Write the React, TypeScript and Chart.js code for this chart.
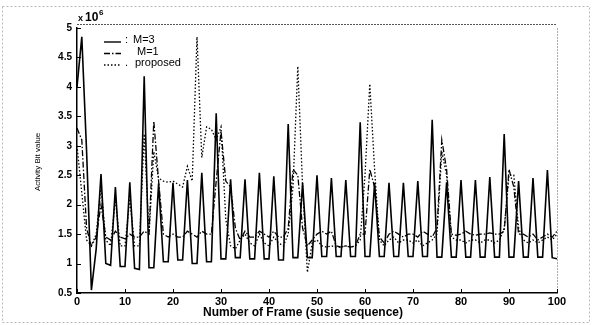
import React, { useEffect, useRef } from "react";
import { Chart, registerables } from "chart.js";
Chart.register(...registerables);

// Frame numbers 0..100
const frameCount = 101;
const xTickValues = [0, 10, 20, 30, 40, 50, 60, 70, 80, 90, 100];
const yTickValues = [0.5, 1, 1.5, 2, 2.5, 3, 3.5, 4, 4.5, 5];

const seriesLabels = ["M=3", "M=1", "proposed"];

// Activity bit value (x 10^6), M=3 (solid)
const m3 = [
  4.0, 4.85, 2.9, 0.55, 1.25, 2.52, 1.0, 0.97, 2.3, 0.95,
  0.95, 2.38, 0.92, 0.9, 4.18, 0.93, 0.93, 2.36, 1.03, 1.03,
  2.37, 1.06, 1.06, 2.42, 1.0, 1.0, 2.54, 1.03, 1.03, 3.55,
  1.08, 1.08, 2.43, 1.1, 1.1, 2.43, 1.08, 1.08, 2.54, 1.08,
  1.08, 2.48, 1.06, 1.06, 3.37, 1.1, 1.1, 2.37, 1.1, 1.1,
  2.5, 1.12, 1.12, 2.45, 1.12, 1.12, 2.42, 1.12, 1.12, 3.4,
  1.12, 1.12, 2.37, 1.12, 1.12, 2.37, 1.12, 1.12, 2.37, 1.12,
  1.12, 2.4, 1.12, 1.12, 3.44, 1.11, 1.11, 2.38, 1.11, 1.11,
  2.42, 1.11, 1.11, 2.42, 1.11, 1.11, 2.47, 1.11, 1.11, 3.2,
  1.11, 1.11, 2.4, 1.11, 1.11, 2.45, 1.11, 1.11, 2.59, 1.1,
  1.08,
];

// M=1 (dash-dot)
const m1 = [
  3.3, 3.1, 1.6, 1.3, 1.45, 2.0, 1.45, 1.4, 1.55, 1.45,
  1.42, 1.5, 1.45, 1.45, 1.55, 1.5, 3.42, 2.4, 1.5, 1.45,
  1.5, 1.45, 1.45, 1.55, 1.5, 1.45, 1.55, 1.5, 1.5, 2.4,
  3.25, 2.4, 2.3, 1.6, 1.4, 1.55, 1.45, 1.45, 1.55, 1.5,
  1.45, 1.55, 1.45, 1.45, 1.6, 2.6, 2.5, 1.6, 1.3, 1.4,
  1.5, 1.55, 1.5, 1.55, 1.3, 1.28, 1.3, 1.28, 1.3, 1.5,
  1.5, 2.6, 2.3, 1.45, 1.35, 1.5, 1.55, 1.5, 1.45, 1.5,
  1.5, 1.45, 1.55, 1.5, 1.45, 1.6, 3.1, 2.6, 1.5, 1.48,
  1.5, 1.55, 1.5, 1.48, 1.5, 1.5, 1.52, 1.5, 1.5, 1.55,
  2.6, 2.3, 1.5, 1.5, 1.45, 1.5, 1.4, 1.45, 1.5, 1.45,
  1.55,
];

// proposed (dotted)
const proposed = [
  3.0, 2.2, 1.4, 1.3, 1.5, 2.3, 1.4, 1.3, 2.1, 1.3,
  1.3, 2.1, 1.3, 1.3, 3.2, 1.5, 2.9, 2.45, 2.4, 2.38,
  2.4, 2.35, 2.3, 2.65, 2.4, 4.85, 2.8, 3.32, 3.28, 3.1,
  3.32, 1.75, 1.3, 1.25, 1.4, 1.5, 1.35, 1.3, 1.5, 1.35,
  1.3, 1.45, 1.35, 1.3, 1.5, 2.3, 4.35, 2.3, 0.85, 1.35,
  1.4, 1.3, 1.28, 1.3, 1.28, 1.28, 1.3, 1.28, 1.3, 1.4,
  2.5, 4.05, 2.6, 1.4, 1.3, 1.4, 1.45, 1.35, 1.4, 1.4,
  1.35, 1.4, 1.3, 1.35, 1.4, 1.5, 2.9, 2.5, 1.45, 1.4,
  1.4, 1.35, 1.4, 1.4, 1.35, 1.4, 1.4, 1.35, 1.4, 1.6,
  2.5, 2.5, 1.6, 1.4, 1.35, 1.4, 1.35, 1.4, 1.45, 1.4,
  1.5,
];

const xTitle = "Number of Frame (susie sequence)";
const yTitle = "Activity Bit value";

const FONT = "'Liberation Sans', Arial, sans-serif";

const toPoints = (arr: number[]) => arr.slice(0, frameCount).map((v, i) => ({ x: i, y: v }));

const dashes: number[][] = [[], [6, 2, 1.5, 2], [1.5, 2]];

const decor = {
  id: "decor",
  afterDraw(chart: any) {
    const { ctx, chartArea: ca, scales } = chart;
    ctx.save();
    // outer scan frame
    ctx.strokeStyle = "#b8b8b8";
    ctx.lineWidth = 1;
    ctx.setLineDash([2, 2]);
    ctx.strokeRect(2.5, 6.5, 587, 316);
    // axes box top/right
    ctx.strokeStyle = "#555";
    ctx.setLineDash([2, 1]);
    ctx.beginPath();
    ctx.moveTo(ca.left, ca.top - 3.5);
    ctx.lineTo(ca.right, ca.top - 3.5);
    ctx.stroke();
    ctx.strokeStyle = "#aaa";
    ctx.beginPath();
    ctx.moveTo(ca.right + 0.5, ca.top);
    ctx.lineTo(ca.right + 0.5, ca.bottom);
    ctx.stroke();
    ctx.setLineDash([]);
    // inner ticks
    ctx.strokeStyle = "#000";
    ctx.lineWidth = 1;
    xTickValues.forEach((v) => {
      const px = Math.round(scales.x.getPixelForValue(v)) + 0.5;
      ctx.beginPath();
      ctx.moveTo(px, ca.bottom);
      ctx.lineTo(px, ca.bottom - 4);
      ctx.stroke();
    });
    yTickValues.forEach((v) => {
      const py = Math.round(scales.y.getPixelForValue(v)) + 0.5;
      ctx.beginPath();
      ctx.moveTo(ca.left, py);
      ctx.lineTo(ca.left + 4, py);
      ctx.stroke();
    });
    // exponent label
    ctx.fillStyle = "#000";
    ctx.textBaseline = "middle";
    ctx.textAlign = "left";
    ctx.font = `bold 9px ${FONT}`;
    ctx.fillText("x", ca.left + 1, ca.top - 9);
    ctx.font = `bold 12px ${FONT}`;
    ctx.fillText("10", ca.left + 8, ca.top - 10);
    ctx.font = `bold 8px ${FONT}`;
    ctx.fillText("6", ca.left + 22, ca.top - 15);
    // legend
    const lx = ca.left + 27;
    seriesLabels.forEach((label, i) => {
      const y = ca.top + 12 + i * 11.5;
      ctx.setLineDash(dashes[i]);
      ctx.lineWidth = 1.4;
      ctx.beginPath();
      ctx.moveTo(lx, y + 2);
      ctx.lineTo(lx + 17, y + 2);
      ctx.stroke();
      ctx.setLineDash([]);
      ctx.font = `11px ${FONT}`;
      ctx.fillText(i === 0 ? ":" : i === 1 ? " " : ".", lx + 21, y);
      ctx.fillText(label, lx + (i === 0 ? 29 : i === 1 ? 33 : 31), y);
    });
    // axis titles
    ctx.font = `bold 12px ${FONT}`;
    ctx.textAlign = "center";
    ctx.fillText(xTitle, (ca.left + ca.right) / 2 - 14, 313);
    ctx.save();
    ctx.translate(38, 162);
    ctx.rotate(-Math.PI / 2);
    ctx.font = `8px ${FONT}`;
    ctx.fillText(yTitle, 0, 0);
    ctx.restore();
    ctx.restore();
  },
};

export default function App() {
  const ref = useRef<HTMLCanvasElement | null>(null);
  useEffect(() => {
    if (!ref.current) return;
    const chart = new Chart(ref.current, {
      type: "line",
      data: {
        datasets: [m3, m1, proposed].map((arr, i) => ({
          label: seriesLabels[i],
          data: toPoints(arr),
          borderColor: "#000",
          borderWidth: i === 0 ? 1.6 : 1.3,
          borderDash: dashes[i],
          pointRadius: 0,
          tension: 0,
          fill: false,
        })),
      },
      options: {
        animation: false,
        responsive: false,
        devicePixelRatio: 1,
        layout: { padding: { top: 28, right: 35, bottom: 0, left: 0 } },
        plugins: { legend: { display: false }, tooltip: { enabled: false } },
        scales: {
          x: {
            type: "linear",
            min: 0,
            max: 100,
            afterFit: (s: any) => { s.height = 32; },
            afterBuildTicks: (s: any) => { s.ticks = xTickValues.map((v) => ({ value: v })); },
            grid: { display: false, drawTicks: false },
            border: { display: true, color: "#000", width: 1.5 },
            ticks: { color: "#000", padding: 2, font: { family: FONT, size: 11, weight: "bold" }, maxRotation: 0, callback: (v: any) => String(v) },
          },
          y: {
            type: "linear",
            min: 0.5,
            max: 5,
            afterFit: (s: any) => { s.width = 77; },
            afterBuildTicks: (s: any) => { s.ticks = yTickValues.map((v) => ({ value: v })); },
            grid: { display: false, drawTicks: false },
            border: { display: true, color: "#000", width: 1.5 },
            ticks: { color: "#000", padding: 5, font: { family: FONT, size: 10, weight: "bold" }, callback: (v: any) => String(v) },
          },
        },
      },
      plugins: [decor],
    });
    return () => chart.destroy();
  }, []);
  return (
    <div style={{ position: "absolute", left: 0, top: 0, width: 592, height: 325, background: "#fff" }}>
      <canvas ref={ref} width={592} height={325} />
    </div>
  );
}
